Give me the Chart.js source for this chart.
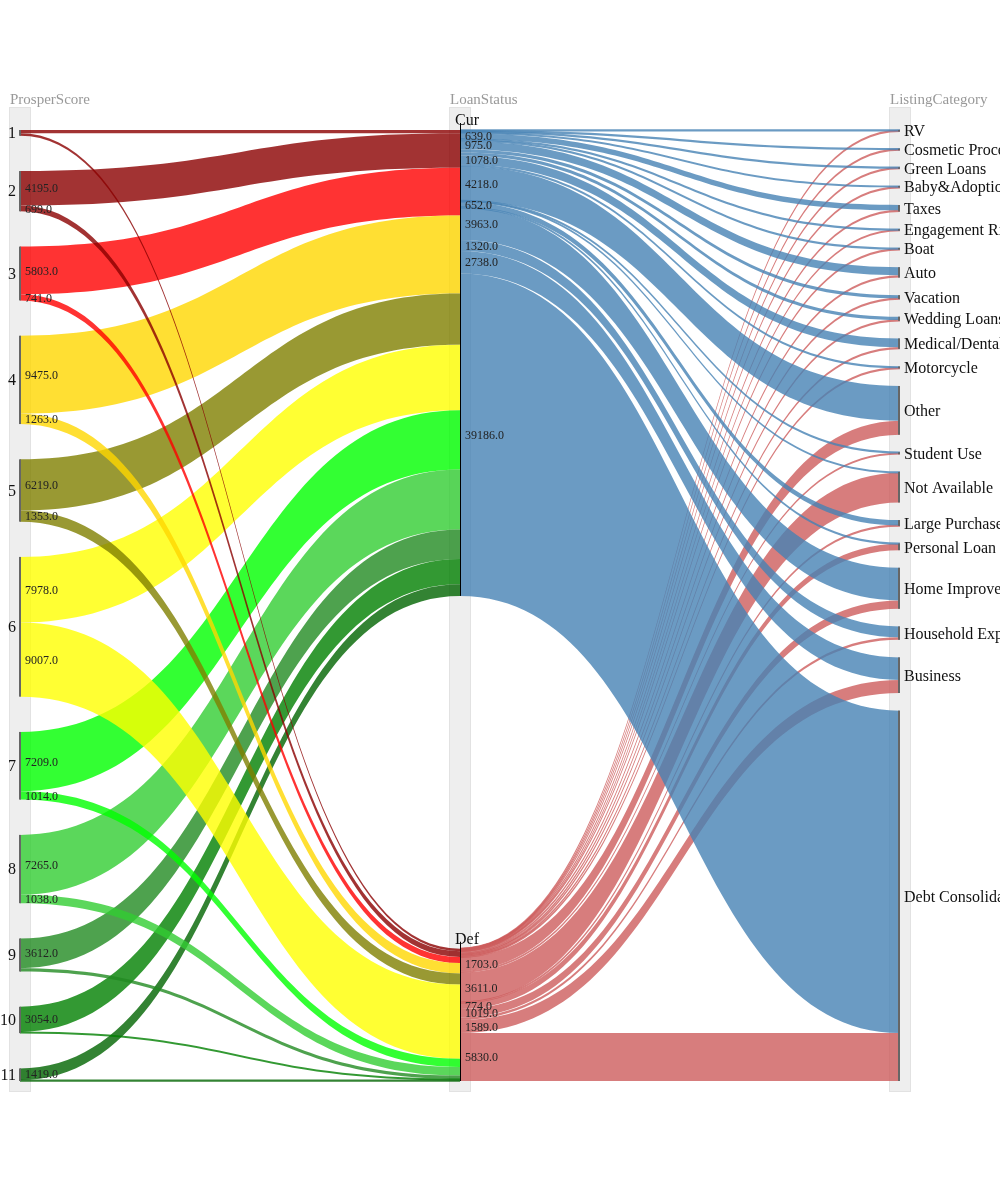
<!DOCTYPE html>
<html>
<head>
<meta charset="utf-8">
<title>ProsperScore / LoanStatus / ListingCategory</title>
<script src="https://cdn.jsdelivr.net/npm/chart.js@4.4.0/dist/chart.umd.min.js"></script>
<style>
  html, body { margin: 0; padding: 0; background: #fff; }
  canvas { display: block; }
</style>
</head>
<body>
<canvas id="chart" width="1000" height="1200"></canvas>
<script>
// Dimensions
const dimensions = ['ProsperScore', 'LoanStatus', 'ListingCategory'];
const scores = ['1', '2', '3', '4', '5', '6', '7', '8', '9', '10', '11'];
const statuses = ['Cur', 'Def'];
const categories = ['RV', 'Cosmetic Procedure', 'Green Loans', 'Baby&Adoption', 'Taxes',
  'Engagement Ring', 'Boat', 'Auto', 'Vacation', 'Wedding Loans', 'Medical/Dental',
  'Motorcycle', 'Other', 'Student Use', 'Not Available', 'Large Purchases', 'Personal Loan',
  'Home Improvement', 'Household Expenses', 'Business', 'Debt Consolidation'];

// ProsperScore -> LoanStatus counts
const scoreToCurrent = [400, 4195, 5803, 9475, 6219, 7978, 7209, 7265, 3612, 3054, 1419];
const scoreToDefault = [300, 699, 741, 1263, 1353, 9007, 1014, 1038, 400, 150, 111];

// LoanStatus -> ListingCategory counts
const currentToCategory = [100, 90, 100, 150, 639, 130, 160, 975, 380, 400, 1078, 180,
  4218, 40, 100, 652, 30, 3963, 1320, 2738, 39186];
const defaultToCategory = [35, 20, 25, 25, 140, 20, 35, 280, 90, 100, 190, 40,
  1703, 200, 3611, 50, 774, 1019, 300, 1589, 5830];

// Couleurs des rubans
const scoreColors = ['darkred', 'darkred', 'red', 'gold', 'olive', 'yellow',
  'lime', 'limegreen', 'forestgreen', 'green', 'darkgreen'];
const statusColors = ['steelblue', 'indianred'];

const GAP_FRACTION = 0.371;   // part de la hauteur laissee aux espaces entre categories
const RIBBON_ALPHA = 0.8;
const MIN_RIBBON_PX = 2.2;    // epaisseur minimale d'un ruban a l'ecran
const LABEL_MIN = 500;        // on n'affiche le compte que pour les rubans assez gros
const SERIF = "'Liberation Serif', 'Times New Roman', serif";

const sum = arr => arr.reduce((a, b) => a + b, 0);
const N = sum(scoreToCurrent) + sum(scoreToDefault);
const SPAN = N / (1 - GAP_FRACTION);

function stack(totals) {
  const gap = SPAN * GAP_FRACTION / (totals.length - 1);
  let y = 0;
  return totals.map(t => { const s = y; y += t + gap; return s; });
}

const scoreTotals = scores.map((_, i) => scoreToCurrent[i] + scoreToDefault[i]);
const statusTotals = [sum(currentToCategory), sum(defaultToCategory)];
const categoryTotals = categories.map((_, c) => currentToCategory[c] + defaultToCategory[c]);

const nodes = [
  { labels: scores, totals: scoreTotals, starts: stack(scoreTotals) },
  { labels: statuses, totals: statusTotals, starts: stack(statusTotals) },
  { labels: categories, totals: categoryTotals, starts: stack(categoryTotals) },
];

// Rubans gauche : score -> statut (ordre de dessin : Cur puis Def)
const statusSplit = [scoreToCurrent, scoreToDefault];
const ribbons = [];
statusSplit.forEach((values, s) => {
  values.forEach((v, i) => {
    const srcOffset = s === 0 ? 0 : scoreToCurrent[i];
    const dstOffset = sum(values.slice(0, i));
    ribbons.push({
      d: 0, v,
      y0: nodes[0].starts[i] + srcOffset,
      y1: nodes[1].starts[s] + dstOffset,
      color: scoreColors[i],
    });
  });
});
// Rubans droite : statut -> categorie (ordre de dessin : Def puis Cur)
const categorySplit = [currentToCategory, defaultToCategory];
[1, 0].forEach(s => {
  const values = categorySplit[s];
  values.forEach((v, c) => {
    const srcOffset = sum(values.slice(0, c));
    const dstOffset = s === 0 ? 0 : currentToCategory[c];
    ribbons.push({
      d: 1, v,
      y0: nodes[1].starts[s] + srcOffset,
      y1: nodes[2].starts[c] + dstOffset,
      color: statusColors[s],
    });
  });
});

// bornes en pixels d'un ruban, avec une epaisseur minimale
function edges(scale, start, v) {
  let a = scale.getPixelForValue(start);
  let b = scale.getPixelForValue(start + v);
  if (b - a < MIN_RIBBON_PX) {
    const m = (a + b) / 2;
    a = m - MIN_RIBBON_PX / 2;
    b = m + MIN_RIBBON_PX / 2;
  }
  return [a, b];
}

const parcatsPlugin = {
  id: 'parcats',
  beforeDatasetsDraw(chart) {
    const { ctx, scales: { x, y } } = chart;
    const top = y.getPixelForValue(0);
    const bottom = y.getPixelForValue(SPAN);
    ctx.save();
    // fonds gris des dimensions
    dimensions.forEach((_, d) => {
      const px = x.getPixelForValue(d);
      ctx.fillStyle = '#eeeeee';
      ctx.strokeStyle = '#e2e2e2';
      ctx.lineWidth = 1;
      ctx.fillRect(px - 10, top - 22, 20, bottom - top + 32);
      ctx.strokeRect(px - 10.5, top - 22.5, 21, bottom - top + 33);
    });
    // rubans
    ctx.globalAlpha = RIBBON_ALPHA;
    ribbons.forEach(r => {
      const x0 = x.getPixelForValue(r.d);
      const x1 = x.getPixelForValue(r.d + 1);
      const xm = (x0 + x1) / 2;
      const [a0, b0] = edges(y, r.y0, r.v);
      const [a1, b1] = edges(y, r.y1, r.v);
      ctx.fillStyle = r.color;
      ctx.beginPath();
      ctx.moveTo(x0, a0);
      ctx.bezierCurveTo(xm, a0, xm, a1, x1, a1);
      ctx.lineTo(x1, b1);
      ctx.bezierCurveTo(xm, b1, xm, b0, x0, b0);
      ctx.closePath();
      ctx.fill();
    });
    ctx.globalAlpha = 1;
    // barres des categories
    nodes.forEach((node, d) => {
      const px = x.getPixelForValue(d);
      node.starts.forEach((s, k) => {
        const y0 = y.getPixelForValue(s);
        const y1 = y.getPixelForValue(s + node.totals[k]);
        if (d === 1) {
          ctx.strokeStyle = '#000';
          ctx.lineWidth = 1;
          ctx.beginPath();
          ctx.moveTo(px + 0.5, y0 - 7);
          ctx.lineTo(px + 0.5, y1);
          ctx.stroke();
        } else {
          ctx.fillStyle = '#666';
          const bx = d === 0 ? px - 1 : px - 2;
          ctx.fillRect(bx, y0, 2, Math.max(y1 - y0, 1.5));
        }
      });
    });
    ctx.restore();
  },
  afterDatasetsDraw(chart) {
    const { ctx, scales: { x, y } } = chart;
    const top = y.getPixelForValue(0);
    ctx.save();
    ctx.textBaseline = 'middle';
    // titres des dimensions
    ctx.font = '15px ' + SERIF;
    ctx.fillStyle = '#999';
    ctx.textAlign = 'left';
    dimensions.forEach((name, d) => {
      ctx.fillText(name, x.getPixelForValue(d) - 10, top - 30);
    });
    // libelles des categories
    ctx.fillStyle = '#111';
    ctx.font = '16px ' + SERIF;
    nodes.forEach((node, d) => {
      const px = x.getPixelForValue(d);
      node.labels.forEach((label, k) => {
        const y0 = y.getPixelForValue(node.starts[k]);
        const yc = y.getPixelForValue(node.starts[k] + node.totals[k] / 2);
        if (d === 0) {
          ctx.textAlign = 'right';
          ctx.fillText(label, px - 4, yc + 1);
        } else if (d === 1) {
          ctx.textAlign = 'left';
          ctx.fillText(label, px - 5, y0 - 9);
        } else {
          ctx.textAlign = 'left';
          ctx.fillText(label, px + 4, yc + 1.5);
        }
      });
    });
    // comptes des rubans
    ctx.font = '12px ' + SERIF;
    ctx.fillStyle = '#222';
    ctx.textAlign = 'left';
    ribbons.forEach(r => {
      if (r.v < LABEL_MIN) return;
      const px = x.getPixelForValue(r.d);
      const yc = y.getPixelForValue(r.y0 + r.v / 2);
      ctx.fillText(r.v.toFixed(1), px + 5, yc + 1);
    });
    ctx.restore();
  },
};

// points invisibles : un par categorie, pour donner des donnees au graphique
const nodePoints = [];
nodes.forEach((node, d) => node.starts.forEach((s, k) => {
  nodePoints.push({ x: d, y: s + node.totals[k] / 2 });
}));

new Chart(document.getElementById('chart'), {
  type: 'scatter',
  data: { datasets: [{ data: nodePoints, pointRadius: 0, showLine: false }] },
  options: {
    responsive: false,
    animation: false,
    events: [],
    layout: { padding: { left: 20, right: 100, top: 130, bottom: 119 } },
    plugins: { legend: { display: false }, tooltip: { enabled: false } },
    scales: {
      x: { type: 'linear', min: 0, max: 2, display: false },
      y: { type: 'linear', min: 0, max: SPAN, reverse: true, display: false },
    },
  },
  plugins: [parcatsPlugin],
});
</script>
</body>
</html>
